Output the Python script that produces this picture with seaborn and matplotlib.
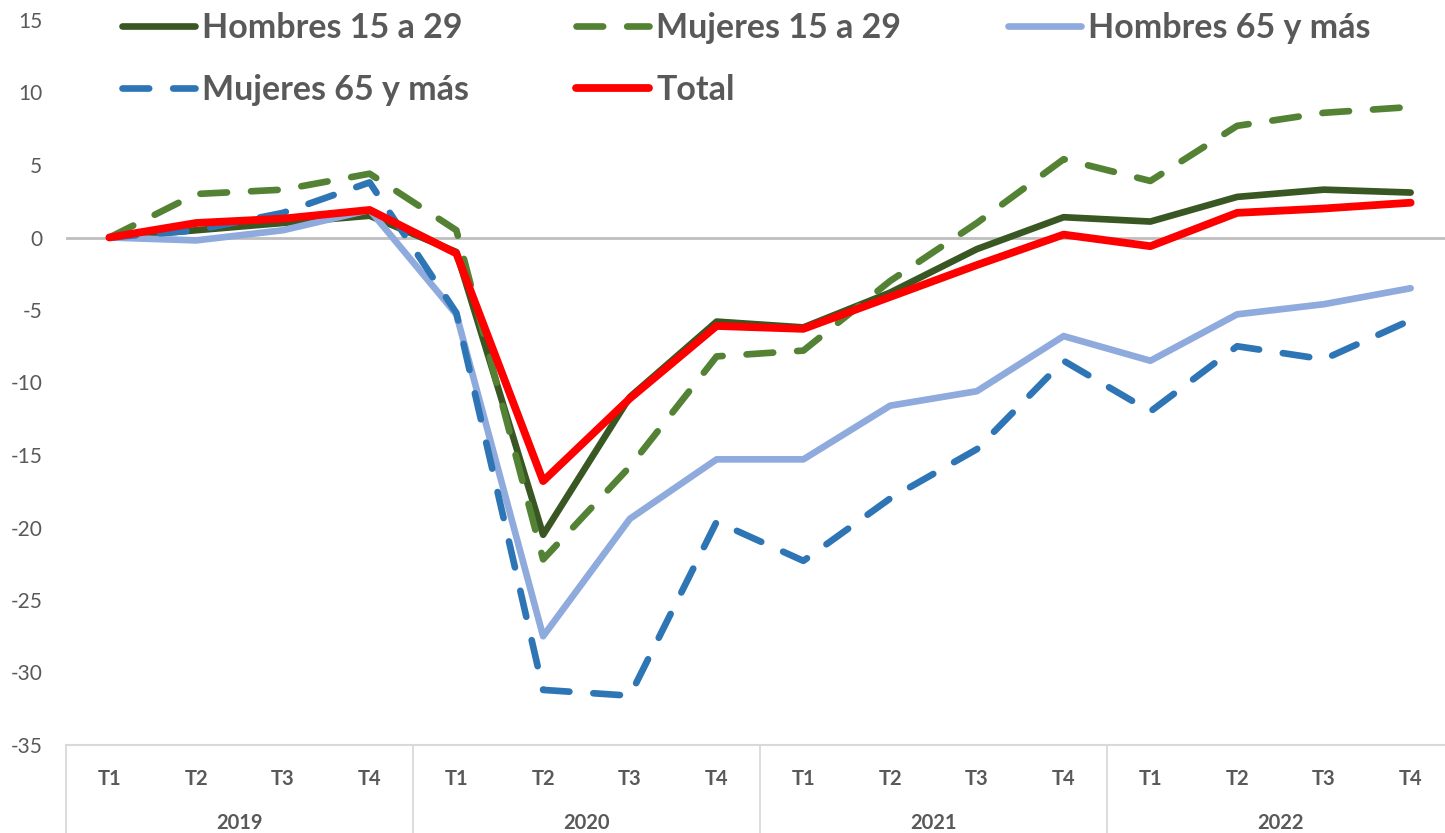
import numpy as np
import pandas as pd
import matplotlib
matplotlib.use("Agg")
import matplotlib.pyplot as plt
import seaborn as sns

years = ["2019", "2020", "2021", "2022"]
quarters = ["T1", "T2", "T3", "T4"]
periods = [f"{y} {q}" for y in years for q in quarters]

hombres_15_29 = [0, 0.5, 1.0, 1.5, -1.0, -20.5, -11.0, -5.8,
                 -6.2, -3.8, -0.8, 1.4, 1.1, 2.8, 3.3, 3.1]
mujeres_15_29 = [0, 3.0, 3.3, 4.4, 0.5, -22.2, -15.8, -8.2,
                 -7.8, -3.0, 1.0, 5.4, 3.9, 7.7, 8.6, 9.0]
hombres_65 = [0, -0.2, 0.5, 1.9, -5.3, -27.5, -19.4, -15.3,
              -15.3, -11.6, -10.6, -6.8, -8.5, -5.3, -4.6, -3.5]
mujeres_65 = [0, 0.5, 1.7, 3.8, -5.2, -31.2, -31.6, -19.6,
              -22.3, -18.0, -14.6, -8.5, -12.0, -7.5, -8.4, -5.7]
total = [0, 1.0, 1.3, 1.9, -1.1, -16.8, -11.1, -6.1,
         -6.3, -4.1, -1.9, 0.2, -0.6, 1.7, 2.0, 2.4]

series = [
    ("Hombres 15 a 29", hombres_15_29, "#385723", "-"),
    ("Mujeres 15 a 29", mujeres_15_29, "#548235", (0, (4.0, 3.6))),
    ("Hombres 65 y más", hombres_65, "#8FAADC", "-"),
    ("Mujeres 65 y más", mujeres_65, "#2E75B6", (0, (4.0, 3.6))),
    ("Total", total, "#FF0000", "-"),
]

sns.set_theme(style="white")
plt.rcParams["font.family"] = ["Lato", "DejaVu Sans"]
plt.rcParams["axes.unicode_minus"] = False
gray = "#595959"

fig = plt.figure(figsize=(14.45, 8.33), dpi=100)
ax = fig.add_axes([66 / 1445, 88 / 833, 1388 / 1445, 725 / 833])

ax.axhline(0, color="#BFBFBF", lw=2, zorder=1)

for name, vals, color, ls in series:
    df = pd.DataFrame({"periodo": periods, "valor": vals})
    lw = 5.6 if name == "Total" else 4.8
    sns.lineplot(data=df, x="periodo", y="valor", ax=ax, color=color, lw=lw,
                 linestyle=ls, label=name, dash_capstyle="round",
                 solid_capstyle="round", solid_joinstyle="round", zorder=3)

ax.set_xlim(-0.5, 15.5)
ax.set_ylim(-35, 15)
ax.set_yticks(np.arange(-35, 16, 5))
ax.tick_params(axis="y", length=0, pad=17, labelsize=15, labelcolor=gray)
ax.set_xticks(range(len(periods)))
ax.set_xticklabels(quarters * len(years), fontweight="bold")
ax.tick_params(axis="x", which="major", length=0, pad=17, labelsize=14.5, labelcolor=gray)
ax.set_xticks([-0.5, 3.5, 7.5, 11.5], minor=True)
ax.tick_params(axis="x", which="minor", bottom=True, length=64, width=1.3,
               color="#D9D9D9", direction="out")
ax.set_xlabel("")
ax.set_ylabel("")

for s in ["top", "right", "left"]:
    ax.spines[s].set_visible(False)
ax.spines["bottom"].set_color("#D9D9D9")
ax.spines["bottom"].set_linewidth(1.5)

for i, y in enumerate(years):
    ax.annotate(y, xy=(i * 4 + 1.5, 0), xycoords=("data", "axes fraction"),
                xytext=(0, -56), textcoords="offset points", ha="center", va="center",
                fontsize=14.5, fontweight="bold", color=gray)

handles, labels = ax.get_legend_handles_labels()
ax.get_legend().remove()
order = [0, 3, 1, 4, 2]
leg = ax.legend([handles[i] for i in order], [labels[i] for i in order], ncol=3,
                loc="upper left", bbox_to_anchor=(122 / 1445, 1 - 12 / 833),
                bbox_transform=fig.transFigure, frameon=False, fontsize=24.5,
                handlelength=2.15, handletextpad=0.2, columnspacing=3.15,
                labelspacing=0.89, borderpad=0, borderaxespad=0)
for t in leg.get_texts():
    t.set_color(gray)
    t.set_fontweight("bold")

fig.savefig("out.png", dpi=100)
